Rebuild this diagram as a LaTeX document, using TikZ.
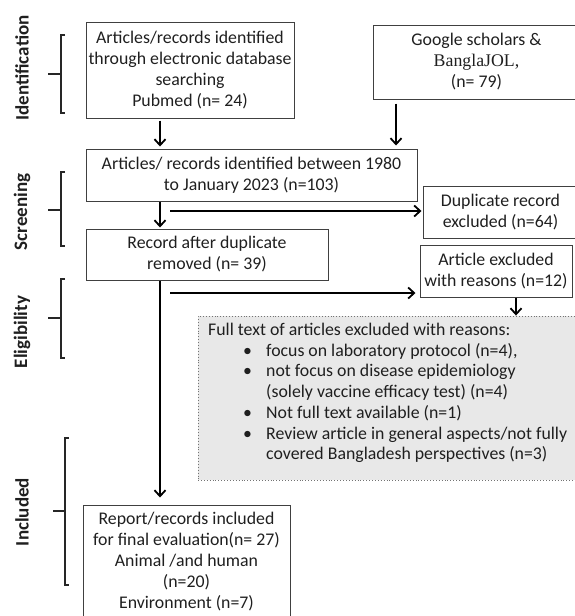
\documentclass[tikz,border=0pt]{standalone}
\usepackage{fontspec}
\setmainfont{Carlito}
\newfontfamily\tnr{Liberation Serif}
\usetikzlibrary{arrows.meta}
\newcommand\rsbul{\hspace*{35pt}\makebox[23pt][l]{\textbullet}}
\newcommand\rsind{\hspace*{58pt}}
\begin{document}
\begin{tikzpicture}[x=1pt,y=-1pt,
  box/.style={draw=black!75, line width=1pt, inner sep=0pt, align=center,
    font=\fontsize{17.8}{21}\selectfont, text=black!88},
  graybox/.style={draw=black!55, dotted, line width=0.9pt, fill=black!9, inner sep=0pt},
  reasons/.style={inner sep=0pt, align=left, font=\fontsize{17.8}{20.7}\selectfont, text=black!88},
  arr/.style={line width=1.8pt, -{Straight Barb[length=6pt,width=11pt,line width=1.8pt]}},
  brk/.style={line width=1.3pt, black!85},
  stage/.style={rotate=90, inner sep=0pt, font=\fontsize{19}{22}\selectfont\bfseries, text=black!88}]
\useasboundingbox (0,0) rectangle (574,616);

% stage labels
\node[stage] (lid) at (22,68) {Identification};
\node[stage] (lsc) at (22,212) {Screening};
\node[stage] (lel) at (22,332) {Eligibility};
\node[stage] (lin) at (22,512) {Included};

% brackets
\draw[brk] (65,35) -- (61,35) -- (61,113) -- (65,113);
\draw[brk] (48,74) -- (61,74);
\draw[brk] (65,172) -- (61,172) -- (61,246) -- (65,246);
\draw[brk] (48,210) -- (61,210);
\draw[brk] (65,279) -- (61,279) -- (61,358) -- (65,358);
\draw[brk] (48,318) -- (61,318);
\draw[brk] (69,438) -- (65,438) -- (65,585) -- (69,585);
\draw[brk] (53,511) -- (65,511);

% boxes
\node[box, minimum width=208pt, minimum height=96pt] (b1) at (190,70)
  {Articles/records identified\\through electronic database\\searching\\Pubmed (n= 24)};
\node[box, minimum width=207pt, minimum height=74pt] (g) at (476.5,62)
  {Google scholars \&\\{\tnr BanglaJOL,}\\(n= 79)};
\node[box, minimum width=331pt, minimum height=52pt] (b3) at (251.5,175)
  {Articles/ records identified between 1980\\to January 2023 (n=103)};
\node[box, minimum width=242pt, minimum height=51pt] (b4) at (207,254.5)
  {Record after duplicate\\removed (n= 39)};
\node[box, minimum width=155pt, minimum height=52pt] (dup) at (500.5,212)
  {Duplicate record\\excluded (n=64)};
\node[box, minimum width=152pt, minimum height=52pt] (ae) at (496,271)
  {Article excluded\\with reasons (n=12)};
\node[graybox, minimum width=382pt, minimum height=164pt] (gray) at (389,398) {};
\node[reasons, anchor=north west] (rs) at (208,323)
  {Full text of articles excluded with reasons:\\
   \rsbul focus on laboratory protocol (n=4),\\
   \rsbul not focus on disease epidemiology\\
   \rsind (solely vaccine efficacy test) (n=4)\\
   \rsbul Not full text available (n=1)\\
   \rsbul Review article in general aspects/not fully\\
   \rsind covered Bangladesh perspectives (n=3)};
\node[box, minimum width=207pt, minimum height=114pt] (fin) at (186.5,562)
  {Report/records included\\for final evaluation(n= 27)\\Animal /and human\\(n=20)\\Environment (n=7)};

% connectors
\coordinate (c160) at (160,0);
\coordinate (c396) at (396,0);
\coordinate (c516) at (516,0);
\coordinate (h1) at (170,211);
\coordinate (h2) at (170,293);
\draw[arr, shorten <=2pt, shorten >=2pt] (b1.south -| c160) -- (b3.north -| c160);
\draw[arr, shorten <=4pt, shorten >=3pt] (g.south -| c396) -- (b3.north -| c396);
\draw[arr, shorten >=1pt] (b3.south -| c160) -- (b4.north -| c160);
\draw[arr, shorten >=1pt] (h1) -- (h1 -| dup.west);
\draw[arr, shorten >=4pt] (h2) -- (h2 -| ae.west);
\draw[arr] (ae.south -| c516) -- (gray.north -| c516);
\draw[arr, shorten >=7pt] (b4.south -| c160) -- (fin.north -| c160);
\end{tikzpicture}
\end{document}
